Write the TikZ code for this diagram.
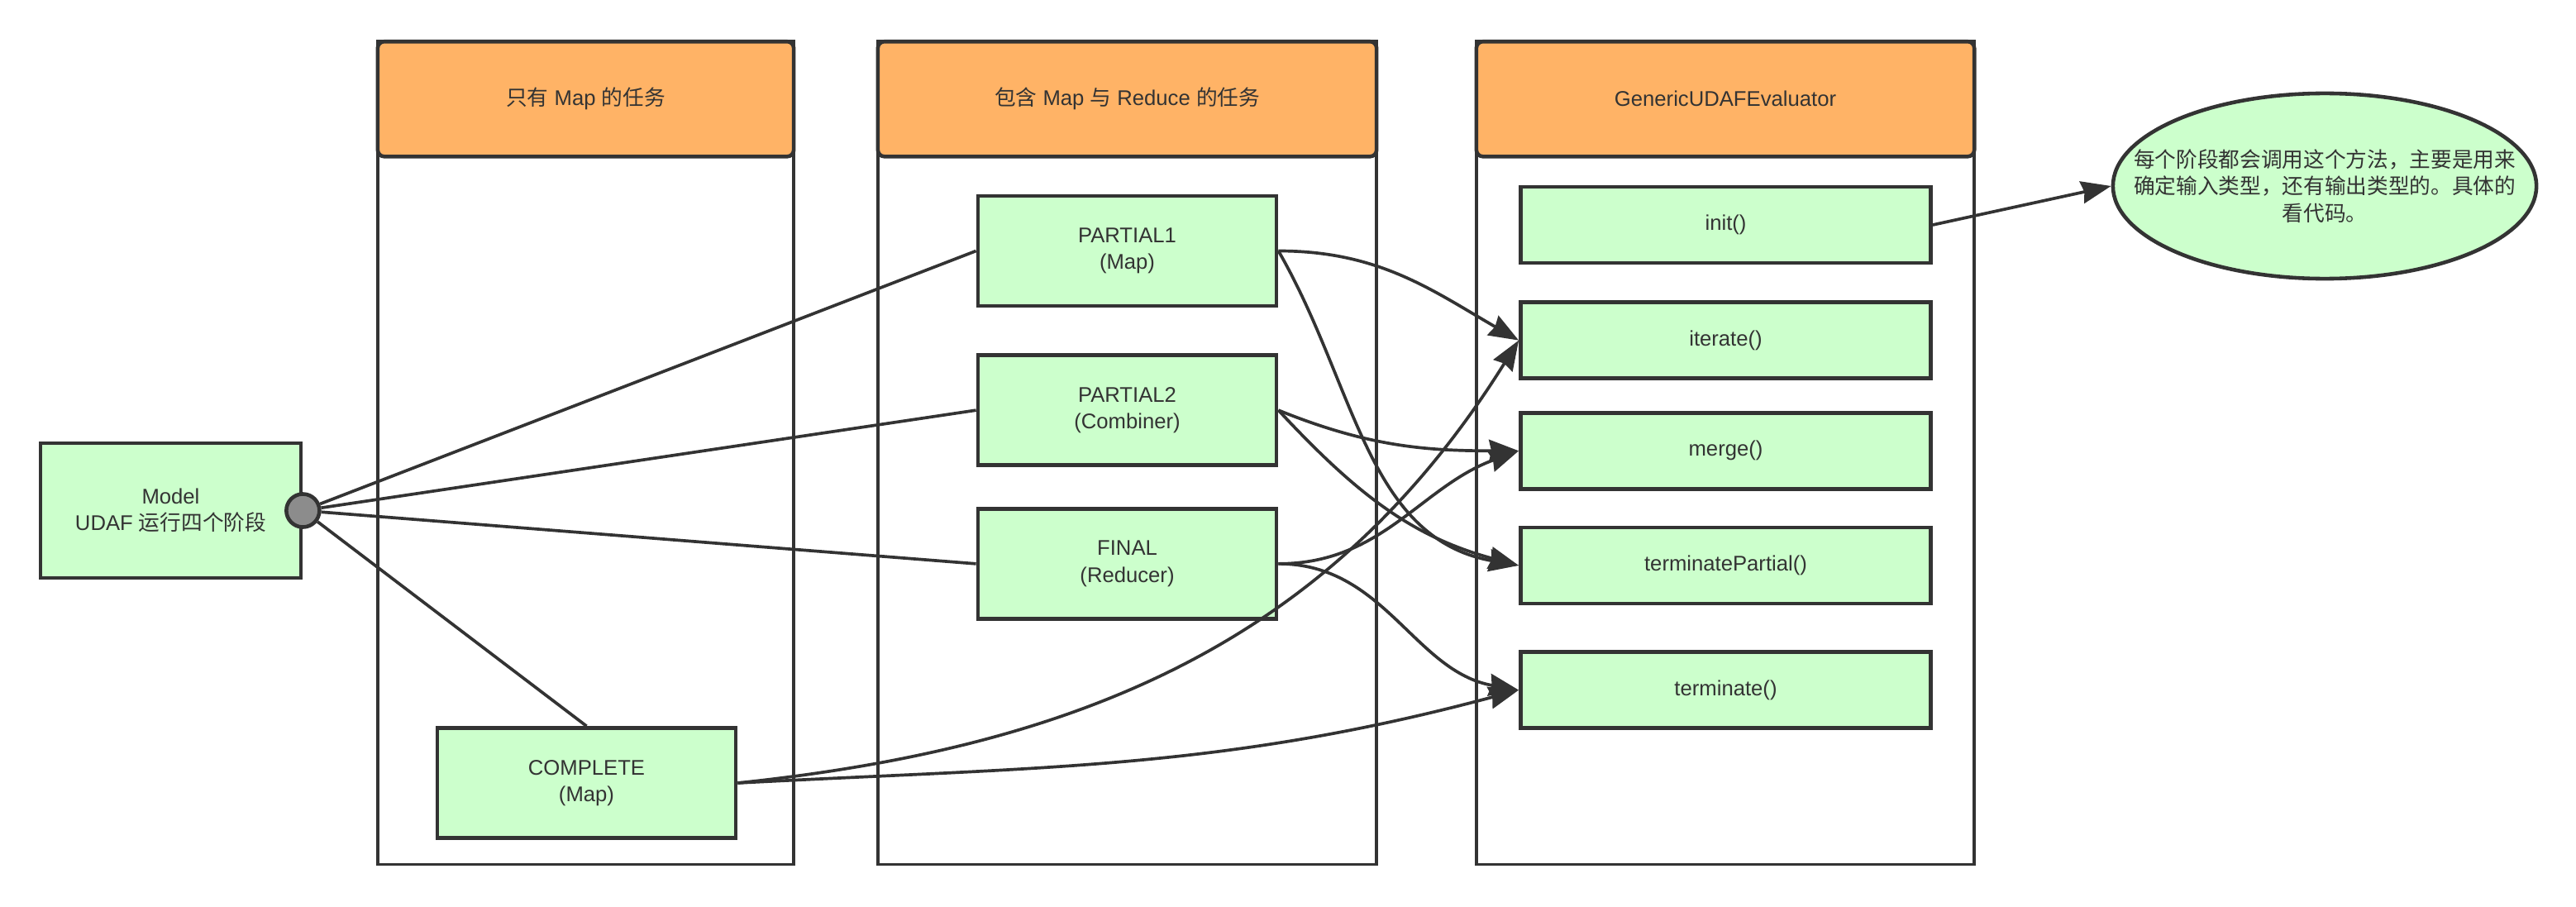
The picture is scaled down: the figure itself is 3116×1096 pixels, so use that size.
\documentclass[tikz,border=0pt]{standalone}
\usepackage{fontspec}
\setmainfont{Liberation Sans}
\newfontfamily\cjk{Noto Sans CJK SC}
\usepackage{xcolor}
\usetikzlibrary{positioning, shapes.geometric, arrows.meta}
\definecolor{inkgray}{HTML}{333333}
\definecolor{stagegreen}{HTML}{CCFFCC}
\definecolor{headorange}{HTML}{FFB366}
\definecolor{dotgray}{HTML}{8C8C8C}

\begin{document}
\begin{tikzpicture}[x=0.01cm,y=0.01cm,
                    font=\fontsize{7.3}{9.2}\selectfont,text=inkgray,
                    lane/.style={rectangle,draw=inkgray,fill=white,line width=1pt,minimum height=9.95cm},
                    head/.style={rectangle,rounded corners=0.08cm,draw=inkgray,fill=headorange,line width=1.3pt,minimum height=1.39cm,align=center},
                    stage/.style={rectangle,draw=inkgray,fill=stagegreen,line width=1.3pt,align=center,inner sep=0pt,minimum width=3.61cm,minimum height=1.33cm},
                    method/.style={stage,minimum width=4.96cm,minimum height=0.92cm},
                    flow/.style={draw=inkgray,line width=1.05pt,-{Stealth[length=0.36cm,width=0.27cm,inset=0.03cm]}},
                    link/.style={draw=inkgray,line width=1.05pt}]

  \path[use as bounding box,fill=white] (0,0) rectangle (3116,1096);

  % swimlanes
  \node[lane,minimum width=5.03cm] (lane1) at (708.5,548.5) {};
  \node[lane,minimum width=6.03cm] (lane2) at (1363.5,548.5) {};
  \node[lane,minimum width=6.02cm] (lane3) at (2087,548.5) {};
  \node[head,minimum width=5.03cm,below=0cm of lane1.north] (head1) {{\cjk 只有} Map {\cjk 的任务}};
  \node[head,minimum width=6.03cm,below=0cm of lane2.north] (head2) {{\cjk 包含} Map {\cjk 与} Reduce {\cjk 的任务}};
  \node[head,minimum width=6.02cm,below=0cm of lane3.north] (head3) {GenericUDAFEvaluator};

  \node[stage,minimum width=3.15cm,minimum height=1.63cm] (model) at (206.5,478.5) {Model\\UDAF {\cjk 运行四个阶段}};
  \node[circle,draw=inkgray,fill=dotgray,line width=1.3pt,minimum size=0.4cm,inner sep=0pt] (dot) at (model.east) {};

  \node[stage] (complete) at (709.5,149) {COMPLETE\\(Map)};
  \node[stage] (partial1) at (1363.5,792.5) {PARTIAL1\\(Map)};
  \node[stage] (partial2) [below=0.55cm of partial1] {PARTIAL2\\(Combiner)};
  \node[stage] (final) [below=0.48cm of partial2] {FINAL\\(Reducer)};

  \node[method] (init) at (2087.5,824) {init()};
  \node[method] (iterate) [below=0.43cm of init] {iterate()};
  \node[method] (merge) [below=0.37cm of iterate] {merge()};
  \node[method] (tpartial) [below=0.42cm of merge] {terminatePartial()};
  \node[method] (terminate) [below=0.54cm of tpartial] {terminate()};

  \node[ellipse,draw=inkgray,fill=stagegreen,line width=1.3pt,minimum width=5.12cm,minimum height=2.24cm,inner sep=0pt,
        label={[align=center]center:{\cjk 每个阶段都会调用这个方法，主要是用来}\\{\cjk 确定输入类型，还有输出类型的。具体的}\\{\cjk 看代码。}}] (note) at (2812,871) {};

  \path[every edge/.style={link}]
  (dot) edge (partial1.west)
  (dot) edge (partial2.west)
  (dot) edge (final.west)
  (dot) edge (complete.north);

  \path[every edge/.style={flow}]
  (partial1.east) edge[out=0,in=150] (iterate.west)
  (partial1.east) edge[out=-60,in=170] (tpartial.west)
  (partial2.east) edge[out=-22,in=180] (merge.west)
  (partial2.east) edge[out=-47,in=165] (tpartial.west)
  (final.east) edge[out=0,in=-160] (merge.west)
  (final.east) edge[out=0,in=170] (terminate.west)
  (complete.east) edge[out=6,in=-122] (iterate.west)
  (complete.east) edge[out=3,in=-165] (terminate.west)
  (init.east) edge (note.west);

\end{tikzpicture}
\end{document}
